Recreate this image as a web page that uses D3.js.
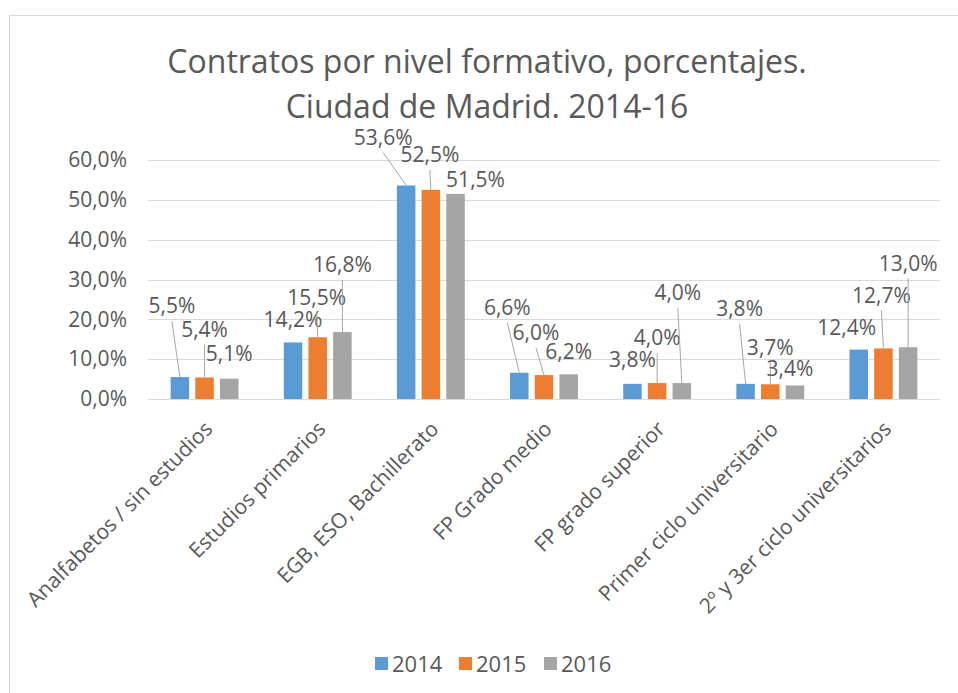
<!DOCTYPE html>
<html>
<head>
<meta charset="utf-8">
<script src="https://cdn.jsdelivr.net/npm/d3@7"></script>
<style>
  body { margin: 0; background: #fff; }
  text { font-family: "Open Sans", sans-serif; fill: #595959; }
</style>
</head>
<body>
<script>
// chart values
var categories = ["Analfabetos / sin estudios", "Estudios primarios", "EGB, ESO, Bachillerato",
  "FP Grado medio", "FP grado superior", "Primer ciclo universitario", "2º y 3er ciclo universitarios"];
var years = ["2014", "2015", "2016"];
var values2014 = [5.5, 14.2, 53.6, 6.6, 3.8, 3.8, 12.4];
var values2015 = [5.4, 15.5, 52.5, 6.0, 4.0, 3.7, 12.7];
var values2016 = [5.1, 16.8, 51.5, 6.2, 4.0, 3.4, 13.0];
var yTicks = [0, 10, 20, 30, 40, 50, 60];
var colors = ["#5b9bd5", "#ed7d31", "#a5a5a5"];

// hand placed label offsets (dx, dy from bar top), like in the original sheet
var labelShift = [
  [[-8, -71], [0, -48], [0, -25]],
  [[0, -23], [-1, -40], [0, -67]],
  [[-23, -48], [-1, -35], [20, -14]],
  [[-12, -65], [-8, -42], [0, -23]],
  [[0, -24], [0, -45], [-4, -90]],
  [[-6, -75], [0, -37], [-5, -17]],
  [[-12, -22], [-2, -53], [0, -84]]
];

var seriesValues = [values2014, values2015, values2016];
var fmt = function(v) { return v.toFixed(1).replace(".", ",") + "%"; };

var svgWidth = 958, svgHeight = 693;
var svg = d3.select("body").append("svg")
  .attr("width", svgWidth)
  .attr("height", svgHeight);

// outer frame
svg.append("rect")
  .attr("x", 9.5).attr("y", 15.5)
  .attr("width", 960).attr("height", 700)
  .attr("fill", "none").attr("stroke", "#d9d9d9");

// title
var title = svg.append("text")
  .attr("text-anchor", "middle")
  .style("font-size", "32px");
title.append("tspan").attr("x", 487).attr("y", 73).text("Contratos por nivel formativo, porcentajes.");
title.append("tspan").attr("x", 487).attr("y", 118).text("Ciudad de Madrid. 2014-16");

var plotLeft = 148, plotRight = 940, plotTop = 160, plotBottom = 399;

var x0 = d3.scaleBand().domain(categories).range([plotLeft, plotRight]);
var x1 = d3.scaleBand().domain(years)
  .range([x0.bandwidth() * 0.2, x0.bandwidth() * 0.8])
  .paddingInner(0.25);
var y = d3.scaleLinear().domain([0, 60]).range([plotBottom, plotTop]);

// grid lines
svg.append("g").selectAll("line")
  .data(yTicks)
  .enter().append("line")
  .attr("x1", plotLeft).attr("x2", plotRight)
  .attr("y1", d => Math.round(y(d)) + 0.5)
  .attr("y2", d => Math.round(y(d)) + 0.5)
  .attr("stroke", "#d9d9d9")
  .attr("stroke-width", 1.2);

// y axis labels
var yAxis = d3.axisLeft(y).tickValues(yTicks).tickSize(0).tickPadding(0).tickFormat(fmt);
svg.append("g")
  .attr("transform", "translate(127,0)")
  .call(yAxis)
  .call(g => g.select(".domain").remove())
  .selectAll("text")
  .style("font-size", "21px")
  .style("font-family", "Open Sans")
  .attr("fill", "#595959");

// bars
var groups = svg.append("g").selectAll("g")
  .data(categories)
  .enter().append("g")
  .attr("transform", d => "translate(" + x0(d) + ",0)");

groups.selectAll("rect")
  .data((c, i) => years.map((yr, j) => ({ year: yr, value: seriesValues[j][i], s: j })))
  .enter().append("rect")
  .attr("x", d => x1(d.year))
  .attr("y", d => y(d.value))
  .attr("width", x1.bandwidth())
  .attr("height", d => y(0) - y(d.value))
  .attr("fill", d => colors[d.s]);

// data labels + leader lines
groups.each(function(c, i) {
  var g = d3.select(this);
  years.forEach(function(yr, j) {
    var v = seriesValues[j][i];
    var bx = x1(yr) + x1.bandwidth() / 2;
    var by = y(v);
    var lx = bx + labelShift[i][j][0];
    var ly = by + labelShift[i][j][1];
    if (ly < by - 30) {
      g.append("line")
        .attr("x1", lx).attr("y1", ly + 15)
        .attr("x2", bx).attr("y2", by)
        .attr("stroke", "#a6a6a6")
        .attr("stroke-width", 1);
    }
    g.append("text")
      .attr("x", lx).attr("y", ly)
      .attr("dy", "0.35em")
      .attr("text-anchor", "middle")
      .style("font-size", "21px")
      .text(fmt(v));
  });
});

// category labels
svg.append("g").selectAll("text")
  .data(categories)
  .enter().append("text")
  .attr("transform", d => "translate(" + (x0(d) + x0.bandwidth() / 2 + 4) + ",425) rotate(-45)")
  .attr("text-anchor", "end")
  .attr("dy", "0.35em")
  .style("font-size", "21px")
  .text(d => d);

// legend
var legend = svg.append("g").selectAll("g")
  .data(years)
  .enter().append("g")
  .attr("transform", (d, i) => "translate(" + [375, 459, 544][i] + ",657)");
legend.append("rect")
  .attr("width", 13).attr("height", 13)
  .attr("fill", (d, i) => colors[i]);
legend.append("text")
  .attr("x", 17).attr("y", 7)
  .attr("dy", "0.35em")
  .style("font-size", "22px")
  .text(d => d);
</script>
</body>
</html>
